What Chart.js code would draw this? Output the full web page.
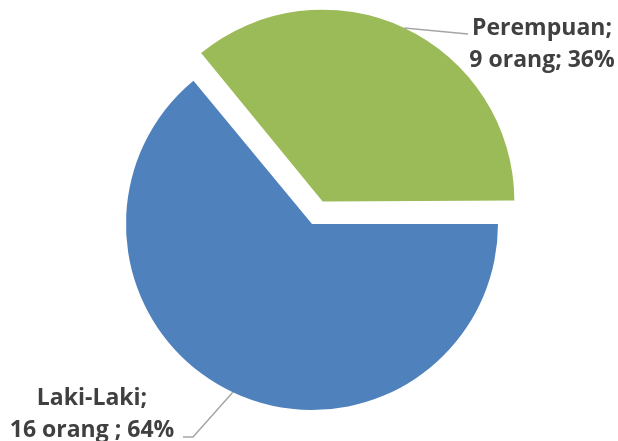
<!DOCTYPE html>
<html>
<head>
<meta charset="utf-8">
<script src="https://cdn.jsdelivr.net/npm/chart.js@4"></script>
<style>
  html, body { margin: 0; padding: 0; background: #fff; }
  canvas { display: block; }
</style>
</head>
<body>
<canvas id="pieChart" width="618" height="441"></canvas>
<script>
document.addEventListener('DOMContentLoaded', (event) => {
    // data jenis kelamin
    const categories = ['Laki-Laki', 'Perempuan'];
    const counts = [16, 9];
    const labelLines = [
        ['Laki-Laki;', '16 orang ; 64%'],
        ['Perempuan;', '9 orang; 36%']
    ];
    const colors = ['#4F81BD', '#9BBB59'];
    const sliceOffsets = [0, 100];

    // posisi teks label dan ujung garis penunjuk
    const labelPlaces = [
        { x: 92, y: 405, path: [[193, 437], [183, 437]] },
        { x: 542, y: 35, path: [[468, 34]] }
    ];

    const labelPlugin = {
        id: 'pieLabels',
        afterDraw(chart) {
            const ctx = chart.ctx;
            const meta = chart.getDatasetMeta(0);
            meta.data.forEach((arc, i) => {
                const mid = (arc.startAngle + arc.endAngle) / 2;
                const shift = sliceOffsets[i] / 4;
                const fix = arc.circumference < Math.PI ? 1 - Math.sin(arc.circumference) : 1;
                const r = arc.outerRadius + (shift ? shift * fix : 0);
                const sx = arc.x + Math.cos(mid) * (shift + r);
                const sy = arc.y + Math.sin(mid) * (shift + r);
                const place = labelPlaces[i];

                ctx.save();
                ctx.strokeStyle = '#A6A6A6';
                ctx.lineWidth = 1.5;
                ctx.beginPath();
                ctx.moveTo(sx, sy);
                place.path.forEach(p => ctx.lineTo(p[0], p[1]));
                ctx.stroke();

                ctx.fillStyle = '#404040';
                ctx.font = 'bold 23px "Open Sans"';
                ctx.textAlign = 'center';
                ctx.textBaseline = 'alphabetic';
                labelLines[i].forEach((line, k) => {
                    ctx.fillText(line, place.x, place.y + k * 32);
                });
                ctx.restore();
            });
        }
    };

    const config = {
        type: 'pie',
        data: {
            labels: categories,
            datasets: [{
                data: counts,
                backgroundColor: colors,
                borderWidth: 0,
                offset: sliceOffsets
            }]
        },
        options: {
            responsive: false,
            animation: false,
            rotation: 90,
            radius: 186,
            layout: {
                padding: { left: 20, right: 14, top: 20, bottom: 13 }
            },
            plugins: {
                legend: { display: false },
                tooltip: { enabled: false }
            }
        },
        plugins: [labelPlugin]
    };

    new Chart(document.getElementById('pieChart'), config);
});
</script>
</body>
</html>
